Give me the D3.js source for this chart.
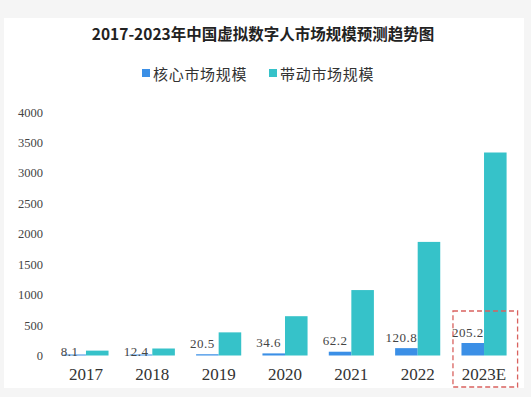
<!DOCTYPE html>
<html>
<head>
<meta charset="utf-8">
<script src="https://cdn.jsdelivr.net/npm/d3@7"></script>
<style>
  html, body { margin: 0; padding: 0; background: #f5f5f5; }
  svg { display: block; }
</style>
</head>
<body>
<div id="chart"></div>
<script>
const years = ['2017', '2018', '2019', '2020', '2021', '2022', '2023E'];
const coreMarket = [8.1, 12.4, 20.5, 34.6, 62.2, 120.8, 205.2];
const drivenMarket = [80, 115, 380, 645.6, 1074.9, 1866.1, 3334.7];
const seriesNames = ['核心市场规模', '带动市场规模'];
const seriesColors = ['#3b8fe6', '#36c2c9'];
const yTicks = [0, 500, 1000, 1500, 2000, 2500, 3000, 3500, 4000];
const highlightYear = '2023E';

const width = 531;
const height = 397;

const svg = d3.select('#chart').append('svg')
  .attr('width', width)
  .attr('height', height);

// white panel of the screenshot
svg.append('rect')
  .attr('x', 4).attr('y', 18)
  .attr('width', 520).attr('height', 370)
  .attr('fill', '#ffffff');

svg.append('text')
  .attr('x', 263).attr('y', 33)
  .attr('text-anchor', 'middle')
  .attr('dominant-baseline', 'central')
  .attr('font-family', '"Noto Sans CJK SC", sans-serif')
  .attr('font-weight', 'bold')
  .attr('font-size', 15.5)
  .attr('fill', '#222')
  .text('2017-2023年中国虚拟数字人市场规模预测趋势图');

// legend
const legend = svg.append('g').attr('transform', 'translate(142,73)');
const legendItems = legend.selectAll('g')
  .data(seriesNames)
  .join('g')
  .attr('transform', (d, i) => `translate(${i * 127},0)`);
legendItems.append('rect')
  .attr('x', 0).attr('y', -4)
  .attr('width', 8).attr('height', 8)
  .attr('fill', (d, i) => seriesColors[i]);
legendItems.append('text')
  .attr('x', 11).attr('y', 0)
  .attr('dominant-baseline', 'central')
  .attr('font-family', '"Noto Sans CJK SC", sans-serif')
  .attr('font-size', 15)
  .attr('letter-spacing', 0.7)
  .attr('fill', '#333')
  .text(d => d);

const x = d3.scaleBand()
  .domain(years)
  .range([52.8, 517.2])
  .paddingInner(0.32)
  .paddingOuter(0.16);

const xSeries = d3.scaleBand()
  .domain([0, 1])
  .range([0, x.bandwidth()]);

const y = d3.scaleLinear()
  .domain([0, 4000])
  .range([355.5, 112]);

// y axis, labels only
const yAxis = svg.append('g')
  .attr('transform', 'translate(43,0)')
  .call(d3.axisLeft(y).tickValues(yTicks).tickSize(0).tickPadding(0).tickFormat(d3.format('d')));
yAxis.select('.domain').remove();
yAxis.selectAll('text')
  .attr('font-family', '"Liberation Serif", serif')
  .attr('font-size', 12.5)
  .attr('fill', '#444');

// x axis, labels only
const xAxis = svg.append('g')
  .attr('transform', 'translate(0,364)')
  .call(d3.axisBottom(x).tickSize(0).tickPadding(0));
xAxis.select('.domain').remove();
xAxis.selectAll('text')
  .attr('dy', '0.95em')
  .attr('font-family', '"Liberation Serif", serif')
  .attr('font-size', 17)
  .attr('fill', '#333');

const rows = years.map((year, i) => ({ year, values: [coreMarket[i], drivenMarket[i]] }));

const groups = svg.append('g').selectAll('g')
  .data(rows)
  .join('g')
  .attr('transform', d => `translate(${x(d.year)},0)`);

groups.selectAll('rect')
  .data(d => d.values)
  .join('rect')
  .attr('x', (d, i) => xSeries(i))
  .attr('y', d => Math.min(y(d), y(0) - 1))
  .attr('width', xSeries.bandwidth())
  .attr('height', d => Math.max(y(0) - y(d), 1))
  .attr('fill', (d, i) => seriesColors[i]);

// value labels of the core series; the smallest ones sit on the bar itself
const labelY = v => (v < 15 ? y(0) - 4 : y(v) - 11);
groups.append('text')
  .attr('x', xSeries(0) + xSeries.bandwidth() / 2 - 5)
  .attr('y', d => labelY(d.values[0]))
  .attr('text-anchor', 'middle')
  .attr('dominant-baseline', 'central')
  .attr('font-family', '"Liberation Serif", serif')
  .attr('font-size', 13)
  .attr('letter-spacing', 0.5)
  .attr('fill', '#444')
  .text(d => d.values[0].toFixed(1));

// dashed box round the forecast year
const hx = x(highlightYear);
const hv = coreMarket[years.indexOf(highlightYear)];
const boxTop = labelY(hv) - 21;
svg.append('rect')
  .attr('x', hx - 8.5)
  .attr('y', boxTop)
  .attr('width', x.bandwidth() + 19.5)
  .attr('height', 387 - boxTop)
  .attr('fill', 'none')
  .attr('stroke', '#d9625f')
  .attr('stroke-width', 1.3)
  .attr('stroke-dasharray', '5,3');
</script>
</body>
</html>
